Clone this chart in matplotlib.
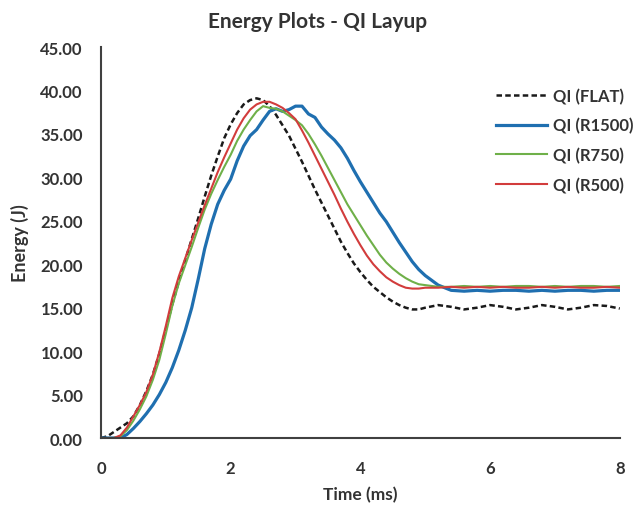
import matplotlib
matplotlib.use("Agg")
import matplotlib.pyplot as plt

time_ms = [0.0, 0.1, 0.2, 0.3, 0.4, 0.5, 0.6, 0.7, 0.8, 0.9,
           1.0, 1.1, 1.2, 1.3, 1.4, 1.5, 1.6, 1.7, 1.8, 1.9,
           2.0, 2.1, 2.2, 2.3, 2.4, 2.5, 2.6, 2.7, 2.8, 2.9,
           3.0, 3.1, 3.2, 3.3, 3.4, 3.5, 3.6, 3.7, 3.8, 3.9,
           4.0, 4.1, 4.2, 4.3, 4.4, 4.5, 4.6, 4.7, 4.8, 4.9,
           5.0, 5.2, 5.4, 5.6, 5.8, 6.0, 6.2, 6.4, 6.6, 6.8,
           7.0, 7.2, 7.4, 7.6, 7.8, 8.0]

qi_flat = [0.0, 0.2, 0.7, 1.2, 1.7, 2.5, 3.8, 5.4, 7.3, 9.7,
           12.5, 15.4, 18.0, 20.5, 22.9, 25.3, 27.8, 30.2, 32.4, 34.5,
           36.1, 37.4, 38.4, 38.9, 39.1, 38.9, 38.2, 37.2, 36.0, 34.8,
           33.3, 31.8, 30.2, 28.6, 27.1, 25.6, 24.1, 22.6, 21.3, 20.1,
           19.1, 18.2, 17.4, 16.8, 16.2, 15.7, 15.3, 15.0, 14.8, 14.8,
           15.0, 15.3, 15.1, 14.8, 15.0, 15.3, 15.1, 14.8, 15.0, 15.3,
           15.1, 14.8, 15.0, 15.3, 15.2, 14.9]

qi_r1500 = [0.0, 0.0, 0.0, 0.0, 0.4, 1.1, 1.9, 2.8, 3.8, 5.0,
            6.4, 8.1, 10.1, 12.4, 15.0, 18.3, 21.8, 24.6, 26.9, 28.5,
            29.8, 31.9, 33.6, 34.8, 35.5, 36.6, 37.6, 37.9, 37.6, 37.8,
            38.2, 38.2, 37.3, 36.9, 35.8, 35.0, 34.3, 33.4, 32.2, 30.8,
            29.5, 28.3, 27.1, 25.9, 24.9, 23.7, 22.5, 21.4, 20.3, 19.4,
            18.7, 17.6, 17.0, 16.9, 17.0, 16.9, 17.0, 17.0, 16.9, 17.0,
            16.9, 17.0, 17.0, 16.9, 17.0, 17.0]

qi_r750 = [0.0, 0.0, 0.0, 0.2, 0.9, 2.0, 3.3, 4.8, 6.7, 9.0,
           12.0, 15.2, 17.8, 19.9, 22.0, 24.2, 26.3, 28.1, 29.7, 31.2,
           32.6, 34.2, 35.5, 36.6, 37.6, 38.2, 38.0, 37.9, 37.6, 37.1,
           36.6, 36.0, 35.0, 33.8, 32.5, 31.1, 29.7, 28.3, 26.9, 25.7,
           24.5, 23.3, 22.2, 21.1, 20.2, 19.5, 18.9, 18.4, 18.0, 17.7,
           17.6, 17.4, 17.4, 17.5, 17.4, 17.5, 17.4, 17.5, 17.5, 17.4,
           17.5, 17.4, 17.5, 17.5, 17.4, 17.5]

qi_r500 = [0.0, 0.0, 0.0, 0.3, 1.2, 2.5, 3.8, 5.3, 7.3, 9.9,
           12.9, 16.1, 18.6, 20.7, 22.8, 24.8, 26.8, 28.7, 30.6, 32.3,
           33.9, 35.5, 36.8, 37.8, 38.4, 38.7, 38.7, 38.4, 38.0, 37.4,
           36.7, 35.4, 34.0, 32.5, 31.0, 29.5, 28.0, 26.4, 24.9, 23.5,
           22.2, 21.0, 20.0, 19.2, 18.5, 18.0, 17.6, 17.3, 17.2, 17.2,
           17.3, 17.3, 17.4, 17.3, 17.4, 17.3, 17.4, 17.3, 17.3, 17.4,
           17.3, 17.4, 17.3, 17.3, 17.4, 17.3]

series = [
    ("QI (FLAT)", qi_flat, "#1a1a1a", "--", 1.8),
    ("QI (R1500)", qi_r1500, "#1f6fb0", "-", 2.3),
    ("QI (R750)", qi_r750, "#6fb049", "-", 1.5),
    ("QI (R500)", qi_r500, "#d23c3c", "-", 1.5),
]

yticks = [0, 5, 10, 15, 20, 25, 30, 35, 40, 45]
xticks = [0, 2, 4, 6, 8]

plt.rcParams['font.family'] = ['Lato', 'DejaVu Sans']
plt.rcParams['font.weight'] = 'bold'

fig = plt.figure(figsize=(6.35, 5.06), dpi=100)
ax = fig.add_axes([0.159, 0.1324, 0.817, 0.7726])

for label, vals, color, ls, lw in series:
    line, = ax.plot(time_ms, vals, color=color, linestyle=ls, linewidth=lw, label=label)
    if ls == "--":
        line.set_dashes((2.2, 1.3))

ax.set_xlim(0, 8)
ax.set_ylim(0, 45)
ax.set_xticks(xticks)
ax.set_xticklabels([str(v) for v in xticks])
ax.set_yticks(yticks)
ax.set_yticklabels([f"{v:.2f}" for v in yticks])
ax.tick_params(axis='both', length=0, labelsize=12, colors='#333333')
ax.tick_params(axis='y', pad=13)
ax.tick_params(axis='x', pad=16)
for lbl in ax.get_xticklabels() + ax.get_yticklabels():
    lbl.set_fontweight('bold')

for side in ['top', 'right']:
    ax.spines[side].set_visible(False)
for side in ['left', 'bottom']:
    ax.spines[side].set_color('#404040')
    ax.spines[side].set_linewidth(1.5)

ax.set_xlabel("Time (ms)", fontsize=12.5, fontweight='bold', color='#333333', labelpad=7)
ax.set_ylabel("Energy (J)", fontsize=13, fontweight='bold', color='#333333', labelpad=8)
fig.text(0.5, 0.9565, "Energy Plots - QI Layup", ha='center', va='center',
         fontsize=15, fontweight='bold', color='#333333')

leg = ax.legend(loc='upper left', bbox_to_anchor=(0.748, 0.913), frameon=False,
                fontsize=12, handlelength=3.05, handletextpad=0.36, labelspacing=0.8,
                borderaxespad=0)
for t in leg.get_texts():
    t.set_color('#333333')
    t.set_fontweight('bold')

fig.savefig("out.png", dpi=100)
